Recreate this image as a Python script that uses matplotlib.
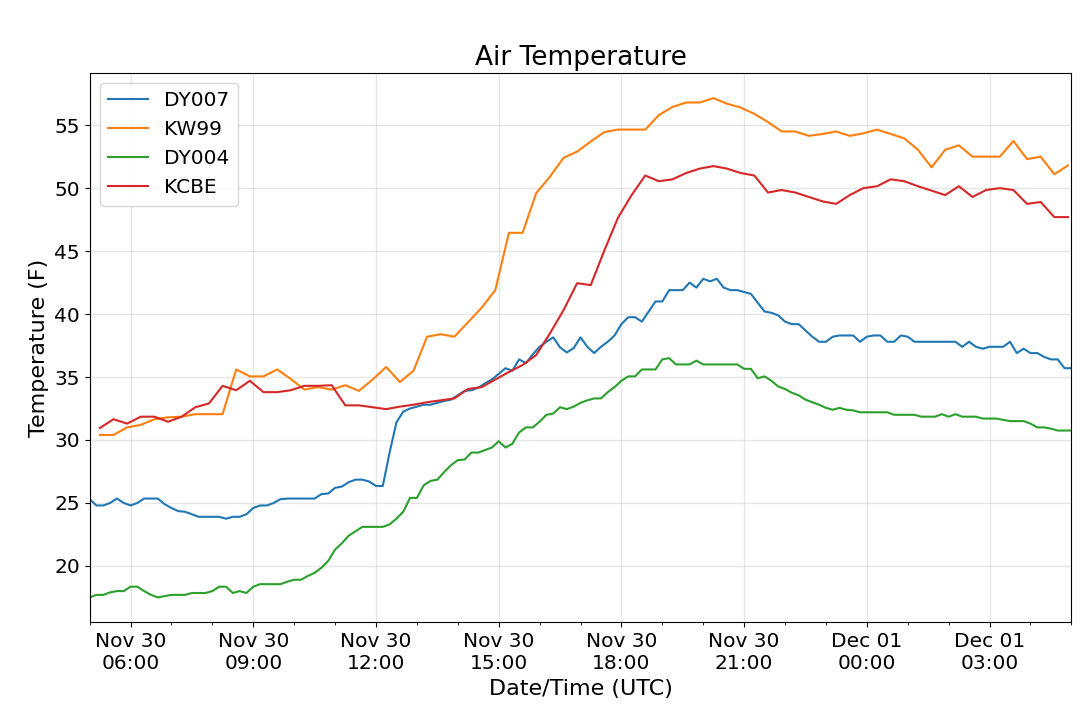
import matplotlib
matplotlib.use("Agg")
import matplotlib.pyplot as plt
import matplotlib.dates as mdates
import pandas as pd

# 10-minute station data, starting Nov 30 05:00 UTC
dy007_temp = [
    25.3, 24.8, 24.8, 25.0, 25.35, 25.0, 24.8, 25.0, 25.35, 25.35,
    25.35, 24.9, 24.6, 24.35, 24.3, 24.1, 23.9, 23.9, 23.9, 23.9,
    23.75, 23.9, 23.9, 24.1, 24.6, 24.8, 24.8, 25.0, 25.3, 25.35,
    25.35, 25.35, 25.35, 25.35, 25.7, 25.75, 26.2, 26.3, 26.65, 26.85,
    26.85, 26.7, 26.35, 26.35, 29.0, 31.4, 32.25, 32.5, 32.65, 32.8,
    32.8, 32.95, 33.1, 33.2, 33.55, 33.9, 33.95, 34.15, 34.5, 34.8,
    35.25, 35.7, 35.5, 36.4, 36.1, 36.8, 37.4, 37.8, 38.15, 37.35,
    36.95, 37.3, 38.15, 37.4, 36.9, 37.4, 37.8, 38.3, 39.2, 39.75,
    39.75, 39.4, 40.2, 41.0, 41.0, 41.9, 41.9, 41.9, 42.5, 42.1,
    42.8, 42.6, 42.8, 42.1, 41.9, 41.9, 41.75, 41.6, 40.9, 40.2,
    40.1, 39.9, 39.4, 39.2, 39.2, 38.7, 38.2, 37.8, 37.8, 38.2,
    38.3, 38.3, 38.3, 37.8, 38.2, 38.3, 38.3, 37.8, 37.8, 38.3,
    38.2, 37.8, 37.8, 37.8, 37.8, 37.8, 37.8, 37.8, 37.4, 37.8,
    37.4, 37.25, 37.4, 37.4, 37.4, 37.8, 36.9, 37.25, 36.9, 36.9,
    36.6, 36.4, 36.4, 35.7, 35.7,
]
dy004_temp = [
    17.5, 17.7, 17.7, 17.9, 18.0, 18.0, 18.35, 18.35, 18.0, 17.7,
    17.5, 17.6, 17.7, 17.7, 17.7, 17.85, 17.85, 17.85, 18.0, 18.35,
    18.35, 17.85, 18.0, 17.85, 18.35, 18.55, 18.55, 18.55, 18.55, 18.75,
    18.9, 18.9, 19.2, 19.45, 19.85, 20.4, 21.3, 21.8, 22.4, 22.75,
    23.1, 23.1, 23.1, 23.1, 23.3, 23.75, 24.3, 25.4, 25.4, 26.4,
    26.75, 26.85, 27.45, 28.0, 28.4, 28.45, 29.0, 29.0, 29.2, 29.4,
    29.9, 29.4, 29.7, 30.6, 31.0, 31.0, 31.45, 32.0, 32.1, 32.6,
    32.45, 32.65, 32.95, 33.15, 33.3, 33.3, 33.8, 34.2, 34.7, 35.05,
    35.05, 35.6, 35.6, 35.6, 36.4, 36.5, 36.0, 36.0, 36.0, 36.3,
    36.0, 36.0, 36.0, 36.0, 36.0, 36.0, 35.65, 35.65, 34.9, 35.05,
    34.7, 34.25, 34.05, 33.75, 33.55, 33.2, 33.0, 32.8, 32.55, 32.4,
    32.55, 32.4, 32.35, 32.2, 32.2, 32.2, 32.2, 32.2, 32.0, 32.0,
    32.0, 32.0, 31.85, 31.85, 31.85, 32.05, 31.85, 32.05, 31.85, 31.85,
    31.85, 31.7, 31.7, 31.7, 31.6, 31.5, 31.5, 31.5, 31.3, 31.0,
    31.0, 30.9, 30.75, 30.75, 30.75,
]

# 20-minute airport reports, starting Nov 30 05:15 UTC
kw99_temp = [
    30.4, 30.4, 31.0, 31.2, 31.65, 31.8, 31.85, 32.05, 32.05, 32.05,
    35.6, 35.05, 35.05, 35.6, 34.85, 34.0, 34.2, 34.0, 34.35, 33.9,
    34.8, 35.8, 34.6, 35.5, 38.2, 38.4, 38.2, 39.35, 40.5, 41.9,
    46.45, 46.45, 49.6, 50.9, 52.4, 52.9, 53.7, 54.45, 54.65, 54.65,
    54.65, 55.8, 56.45, 56.8, 56.8, 57.15, 56.7, 56.4, 55.9, 55.25,
    54.5, 54.5, 54.15, 54.3, 54.5, 54.15, 54.35, 54.65, 54.3, 53.95,
    53.05, 51.65, 53.05, 53.4, 52.5, 52.5, 52.5, 53.75, 52.3, 52.5,
    51.1, 51.8,
]
kcbe_temp = [
    30.95, 31.65, 31.3, 31.85, 31.85, 31.45, 31.85, 32.6, 32.9, 34.3,
    33.95, 34.7, 33.8, 33.8, 33.95, 34.3, 34.3, 34.35, 32.75, 32.75,
    32.6, 32.45, 32.65, 32.8, 33.0, 33.15, 33.3, 34.05, 34.2, 34.8,
    35.4, 35.95, 36.75, 38.45, 40.3, 42.45, 42.3, 45.05, 47.65, 49.45,
    51.0, 50.55, 50.7, 51.2, 51.55, 51.75, 51.55, 51.2, 51.0, 49.65,
    49.85, 49.65, 49.3, 48.95, 48.75, 49.45, 50.0, 50.15, 50.7, 50.55,
    50.15, 49.8, 49.45, 50.15, 49.3, 49.85, 50.0, 49.85, 48.75, 48.9,
    47.7, 47.7,
]

dy_times = pd.date_range("2019-11-30 05:00", periods=len(dy007_temp), freq="10min")
airport_times = pd.date_range("2019-11-30 05:15", periods=len(kw99_temp), freq="20min")

fig, ax = plt.subplots(figsize=(10.8, 7.17), dpi=100)
fig.subplots_adjust(left=0.083, right=0.992, top=0.898, bottom=0.132)

ax.plot(dy_times, dy007_temp, label="DY007", color="tab:blue", lw=1.5)
ax.plot(airport_times, kw99_temp, label="KW99", color="tab:orange", lw=1.5)
ax.plot(dy_times, dy004_temp, label="DY004", color="tab:green", lw=1.5)
ax.plot(airport_times, kcbe_temp, label="KCBE", color="tab:red", lw=1.5)

ax.set_xlim(dy_times[0], dy_times[-1])
ax.xaxis.set_major_locator(mdates.HourLocator(byhour=range(0, 24, 3)))
ax.xaxis.set_minor_locator(mdates.HourLocator())
ax.xaxis.set_major_formatter(mdates.DateFormatter("%b %d\n%H:%M"))
ax.grid(True, color="#b0b0b0", alpha=0.3, lw=1)

ax.tick_params(labelsize=14.5)
ax.set_title("Air Temperature", fontsize=19)
ax.set_xlabel("Date/Time (UTC)", fontsize=16)
ax.set_ylabel("Temperature (F)", fontsize=16)
ax.legend(loc="upper left", fontsize=14.5)

fig.savefig("out.png")
